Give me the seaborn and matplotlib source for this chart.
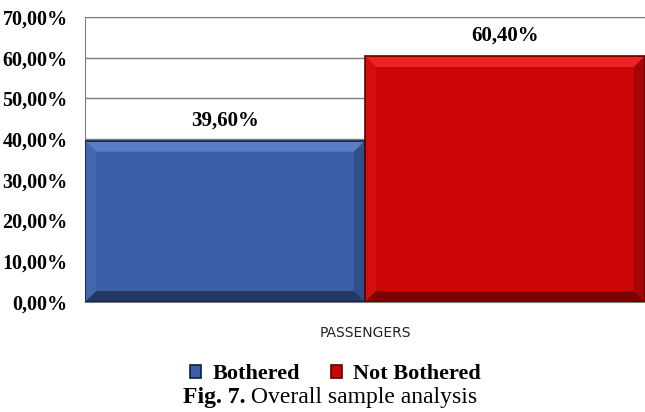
import matplotlib
matplotlib.use("Agg")
import matplotlib.pyplot as plt
from matplotlib.patches import Polygon
import seaborn as sns
import pandas as pd

# data
group = ["PASSENGERS", "PASSENGERS"]
status = ["Bothered", "Not Bothered"]
share = [39.60, 60.40]
colors = ["#3A5FA6", "#CC0606"]
edge_colors = ["#0E1F45", "#5A0000"]

df = pd.DataFrame({"group": group, "status": status, "share": share})

sns.set_style("white")
plt.rcParams["font.family"] = ["Liberation Serif", "DejaVu Serif"]
plt.rcParams["text.color"] = "black"
plt.rcParams["ytick.color"] = "black"

fig = plt.figure(figsize=(6.45, 4.12), dpi=100)
ax = fig.add_axes([0.132, 0.267, 0.868, 0.692])

sns.barplot(data=df, x="group", y="share", hue="status", palette=colors,
            saturation=1, width=1.0, dodge=True, ax=ax, legend=False, zorder=3)

ax.set_ylim(0, 70)
ax.set_xlim(-0.5, 0.5)
ax.set_yticks(range(0, 71, 10))
ax.set_yticklabels([f"{v},00%" for v in range(0, 71, 10)],
                   fontsize=14.5, fontweight="bold", color="black")
ax.tick_params(axis="y", length=0, pad=12.5)
ax.tick_params(axis="x", length=0, pad=17)
ax.set_xticks([0])
ax.set_xticklabels(["PASSENGERS"], fontsize=10, family="DejaVu Sans", color="#222222")
ax.set_xlabel("")
ax.set_ylabel("")
ax.yaxis.grid(True, color="#7f7f7f", lw=1, zorder=0)
for sp in ax.spines.values():
    sp.set_color("#7f7f7f")
ax.spines["right"].set_visible(False)

# bevel look and value labels
fig.canvas.draw()
bbox = ax.get_window_extent()
xl, yl = ax.get_xlim(), ax.get_ylim()
px_x = (xl[1] - xl[0]) / bbox.width
px_y = (yl[1] - yl[0]) / bbox.height
bev = 11
for bar, col, ecol, val in zip(ax.patches, colors, edge_colors, share):
    x0, x1 = bar.get_x(), bar.get_x() + bar.get_width()
    y0, y1 = 0, bar.get_height()
    bx, by = bev * px_x, bev * px_y
    rgb = matplotlib.colors.to_rgb(col)
    light = tuple(min(1, c + 0.12) for c in rgb)
    lighter = tuple(min(1, c + 0.03) for c in rgb)
    dark = tuple(c * 0.82 for c in rgb)
    darker = tuple(c * 0.6 for c in rgb)
    faces = [
        ([(x0, y1), (x1, y1), (x1 - bx, y1 - by), (x0 + bx, y1 - by)], light),
        ([(x0, y0), (x0, y1), (x0 + bx, y1 - by), (x0 + bx, y0 + by)], lighter),
        ([(x1, y0), (x1, y1), (x1 - bx, y1 - by), (x1 - bx, y0 + by)], dark),
        ([(x0, y0), (x1, y0), (x1 - bx, y0 + by), (x0 + bx, y0 + by)], darker),
    ]
    for pts, fc in faces:
        ax.add_patch(Polygon(pts, closed=True, facecolor=fc, edgecolor="none",
                             zorder=4))
    ax.add_patch(Polygon([(x0, y0), (x1, y0), (x1, y1), (x0, y1)], closed=True,
                         facecolor="none", edgecolor=ecol, lw=1.2, zorder=5))
    label = f"{val:.2f}".replace(".", ",") + "%"
    ax.text((x0 + x1) / 2, y1 + 5, label, ha="center", va="center",
            fontsize=15, fontweight="bold", zorder=6)

handles = [plt.Rectangle((0, 0), 1, 1, facecolor=c, edgecolor=e, lw=1.2)
           for c, e in zip(colors, edge_colors)]
fig.legend(handles, status, loc="center", bbox_to_anchor=(0.52, 0.092), ncol=2,
           frameon=False, prop={"weight": "bold", "size": 16},
           handlelength=0.5, handleheight=0.5, handletextpad=0.5,
           columnspacing=1.4)

# caption: bold "Fig. 7." followed by regular text, centred as a whole
t1 = fig.text(0, 0.034, "Fig. 7.", ha="left", va="center",
              fontsize=17, fontweight="bold")
t2 = fig.text(0, 0.034, " Overall sample analysis", ha="left", va="center",
              fontsize=17)
fig.canvas.draw()
r = fig.canvas.get_renderer()
w1 = t1.get_window_extent(r).width
w2 = t2.get_window_extent(r).width
start = 330 - (w1 + w2) / 2
t1.set_x(start / fig.bbox.width)
t2.set_x((start + w1) / fig.bbox.width)

fig.savefig("out.png", dpi=100)
